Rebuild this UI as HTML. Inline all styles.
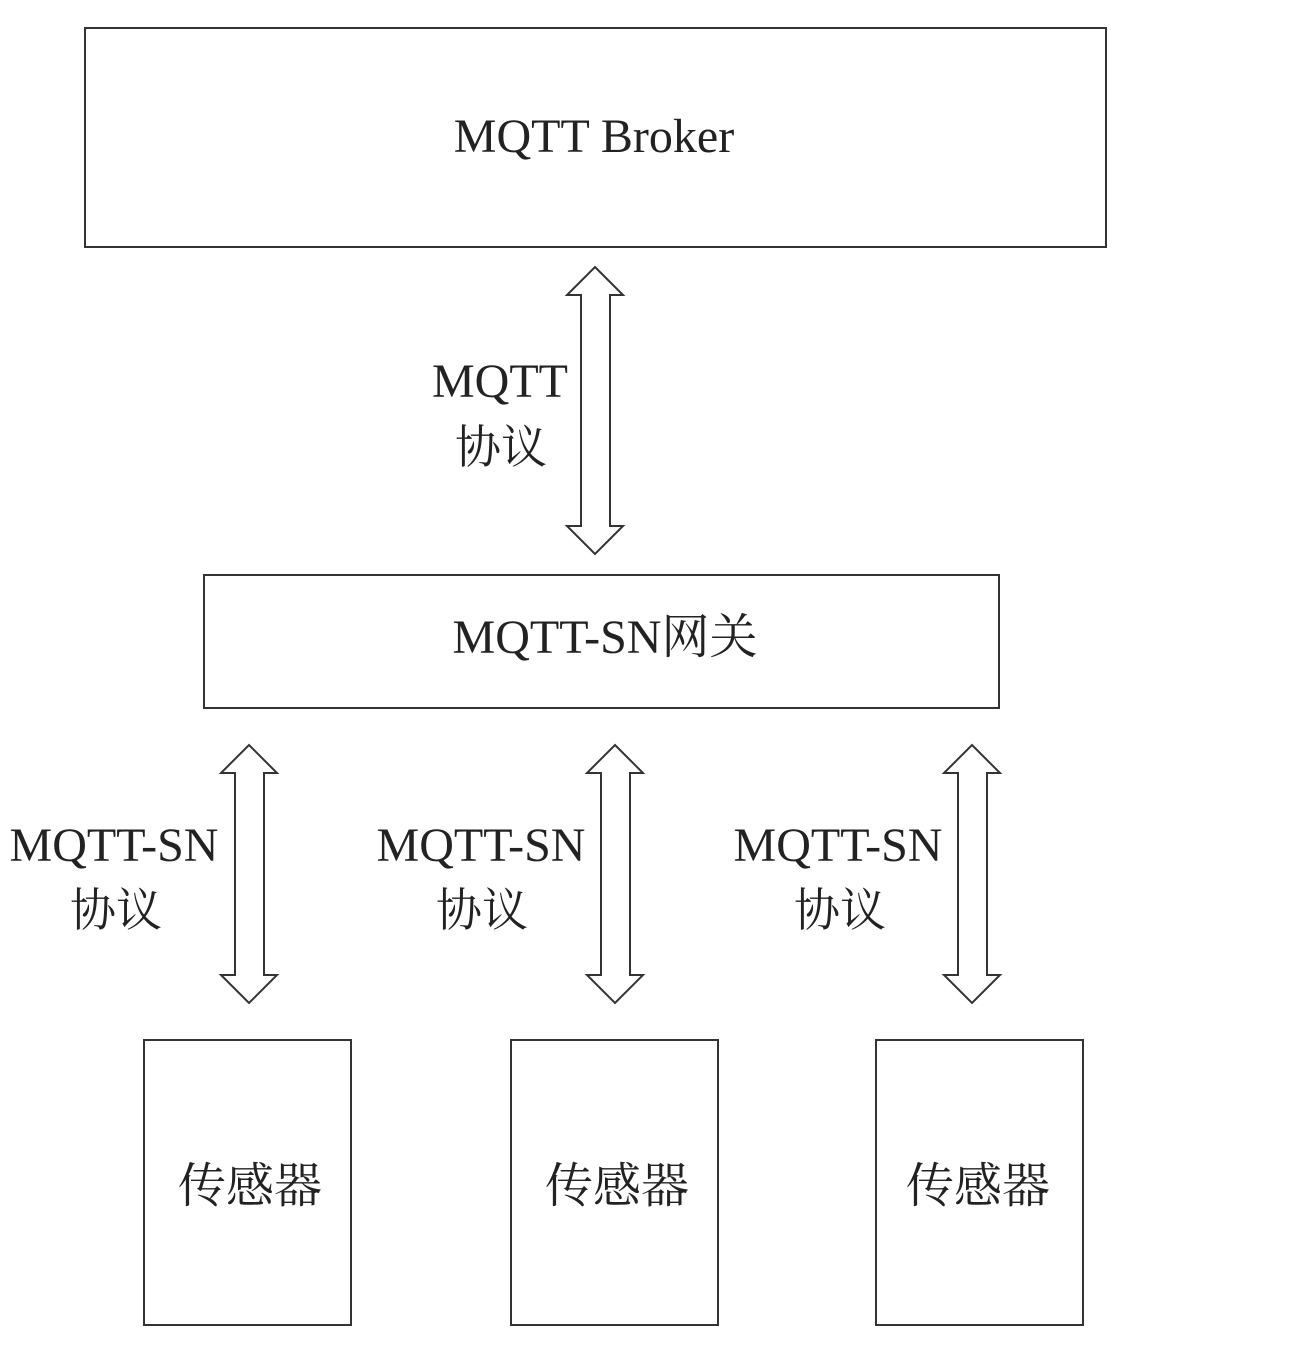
<!DOCTYPE html>
<html><head><meta charset="utf-8"><style>
html,body{margin:0;padding:0;background:#fff;}
svg{display:block;}
text{font-family:"Liberation Serif","Noto Serif CJK SC",serif;fill:#222;}
</style></head><body>
<svg width="1309" height="1361" viewBox="0 0 1309 1361" xmlns="http://www.w3.org/2000/svg">
<g fill="#fff" stroke="#333" stroke-width="2">
<rect x="85" y="28" width="1021" height="219"/>
<rect x="204" y="575" width="795" height="133"/>
<rect x="144" y="1040" width="207" height="285"/>
<rect x="511" y="1040" width="207" height="285"/>
<rect x="876" y="1040" width="207" height="285"/>
<polygon points="595,267 623,295 610,295 610,526 623,526 595,554 567,526 581,526 581,295 567,295"/>
<polygon points="249,745 277,773 264,773 264,975 277,975 249,1003 221,975 235,975 235,773 221,773"/>
<polygon points="615,745 643,773 630,773 630,975 643,975 615,1003 587,975 601,975 601,773 587,773"/>
<polygon points="972,745 1000,773 987,773 987,975 1000,975 972,1003 944,975 958,975 958,773 944,773"/>
</g>
<g text-anchor="middle" font-size="48">
<text x="594" y="152">MQTT Broker</text>
<text x="500" y="397">MQTT</text>
<text x="501" y="463" font-size="46">协议</text>
<text x="605" y="653">MQTT-SN网关</text>
<text x="114" y="861">MQTT-SN</text>
<text x="116" y="926" font-size="46">协议</text>
<text x="481" y="861">MQTT-SN</text>
<text x="482" y="926" font-size="46">协议</text>
<text x="838" y="861">MQTT-SN</text>
<text x="840" y="926" font-size="46">协议</text>
<text x="250" y="1202">传感器</text>
<text x="617" y="1202">传感器</text>
<text x="978" y="1202">传感器</text>
</g>
</svg>
</body></html>
